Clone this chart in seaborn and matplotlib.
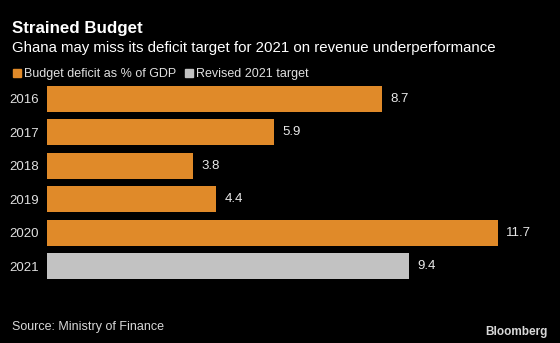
import matplotlib
matplotlib.use("Agg")
import matplotlib.pyplot as plt
import seaborn as sns
import pandas as pd
from matplotlib.patches import Rectangle

years = ["2016", "2017", "2018", "2019", "2020", "2021"]
values = [8.7, 5.9, 3.8, 4.4, 11.7, 9.4]
series = ["Budget deficit as % of GDP"] * 5 + ["Revised 2021 target"]
legend_labels = ["Budget deficit as % of GDP", "Revised 2021 target"]
colors = ["#E08A29", "#C2C2C2"]

df = pd.DataFrame({"year": years, "value": values, "series": series})

sns.set_theme(style="dark")
plt.rcParams["font.family"] = ["Liberation Sans", "DejaVu Sans"]

fig = plt.figure(figsize=(5.6, 3.43), dpi=100, facecolor="black")
ax = fig.add_axes([47 / 560, 1 - 283 / 343, 493 / 560, 201 / 343])
ax.set_facecolor("black")

sns.barplot(data=df, x="value", y="year", hue="series", palette=dict(zip(legend_labels, colors)),
            dodge=False, width=0.78, saturation=1, linewidth=0, edgecolor="none",
            ax=ax, legend=False, orient="h")

for container in ax.containers:
    ax.bar_label(container, labels=[f"{v:.1f}" for v in container.datavalues],
                 padding=6, color="#E8E8E8", fontsize=9.5)

ax.set_xlim(0, 12.8)
ax.set_ylim(5.5, -0.5)
ax.set_xlabel("")
ax.set_ylabel("")
ax.set_xticks([])
ax.tick_params(axis="y", length=0, pad=6, labelcolor="#E0E0E0", labelsize=9.5)
ax.grid(False)
for s in ax.spines.values():
    s.set_visible(False)

fig.text(12 / 560, 1 - 33 / 343, "Strained Budget", color="white", fontsize=12.2,
         fontweight="bold", va="baseline")
fig.text(12 / 560, 1 - 52 / 343, "Ghana may miss its deficit target for 2021 on revenue underperformance",
         color="white", fontsize=10.8, va="baseline")

# legend row
lx = 13
for lab, col in zip(legend_labels, colors):
    fig.patches.append(Rectangle((lx / 560, 1 - 77 / 343), 8 / 560, 8 / 343,
                                 transform=fig.transFigure, color=col))
    t = fig.text((lx + 11) / 560, 1 - 77 / 343, lab, color="#E0E0E0", fontsize=9, va="baseline")
    fig.canvas.draw()
    bb = t.get_window_extent()
    lx = bb.x1 + 9

fig.text(12 / 560, 1 - 330 / 343, "Source: Ministry of Finance", color="#D8D8D8",
         fontsize=9, va="baseline")
fig.text(548 / 560, 1 - 335 / 343, "Bloomberg", color="#D8D8D8", fontsize=8.5,
         fontweight="bold", ha="right", va="baseline")

fig.savefig("out.png", dpi=100, facecolor="black")
